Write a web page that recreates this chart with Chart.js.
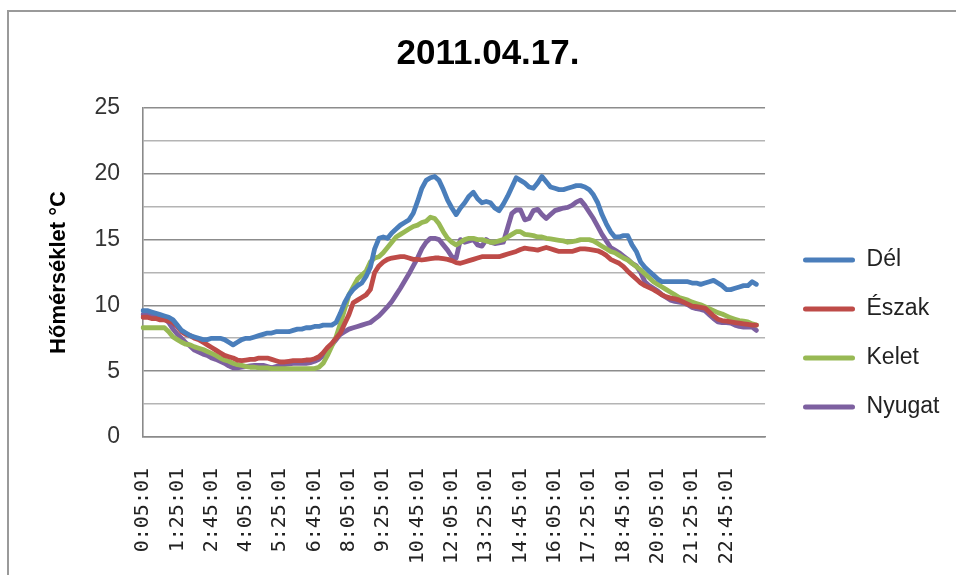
<!DOCTYPE html>
<html>
<head>
<meta charset="utf-8">
<script src="https://cdn.jsdelivr.net/npm/chart.js@4.4.1/dist/chart.umd.min.js"></script>
<style>
  html, body { margin: 0; padding: 0; background: #fff; overflow: hidden; }
  #wrap { position: relative; width: 956px; height: 575px; }
  #frame { position: absolute; left: 7px; top: 10px; width: 980px; height: 620px;
           border: 2px solid #9a9a9a; box-sizing: border-box; pointer-events: none; }
</style>
</head>
<body>
<div id="wrap">
  <canvas id="c" width="956" height="575"></canvas>
  <div id="frame"></div>
</div>
<script>
const chartTitle = '2011.04.17.';
const yAxisTitle = 'Hőmérséklet °C';
const seriesNames = ['Dél', 'Észak', 'Kelet', 'Nyugat'];
const seriesColors = ['#4A7EBB', '#BE4B48', '#98B954', '#7D60A0'];

// categories: readings every 10 minutes from 0:05:01 (144 readings) + 2 empty slots at the end of the axis
const categories = [];
for (let i = 0; i < 144; i++) {
  const m = 5 + 10 * i;
  categories.push(Math.floor(m / 60) + ':' + String(m % 60).padStart(2, '0') + ':01');
}
categories.push('', '');

const shownTickLabels = ['0:05:01','1:25:01','2:45:01','4:05:01','5:25:01','6:45:01','8:05:01','9:25:01',
  '10:45:01','12:05:01','13:25:01','14:45:01','16:05:01','17:25:01','18:45:01','20:05:01','21:25:01','22:45:01'];

const del = [
  9.6, 9.6, 9.5, 9.4, 9.3, 9.2, 9.1, 8.9, 8.5, 8.1,
  7.9, 7.7, 7.6, 7.5, 7.4, 7.4, 7.5, 7.5, 7.5, 7.4,
  7.2, 7.0, 7.2, 7.4, 7.5, 7.5, 7.6, 7.7, 7.8, 7.9,
  7.9, 8.0, 8.0, 8.0, 8.0, 8.1, 8.2, 8.2, 8.3, 8.3,
  8.4, 8.4, 8.5, 8.5, 8.5, 8.7, 9.4, 10.2, 10.8, 11.2,
  11.5, 11.7, 12.2, 12.9, 14.3, 15.1, 15.2, 15.1, 15.5, 15.8,
  16.1, 16.3, 16.5, 17.0, 17.9, 18.9, 19.5, 19.7, 19.8, 19.5,
  18.8, 18.0, 17.4, 16.9, 17.4, 17.8, 18.3, 18.6, 18.1, 17.8,
  17.9, 17.8, 17.4, 17.2, 17.7, 18.3, 19.0, 19.7, 19.5, 19.3,
  19.0, 18.9, 19.3, 19.8, 19.4, 19.0, 18.9, 18.8, 18.8, 18.9,
  19.0, 19.1, 19.1, 19.0, 18.8, 18.4, 17.8, 16.9, 16.2, 15.6,
  15.2, 15.2, 15.3, 15.3, 14.6, 14.1, 13.3, 12.9, 12.6, 12.3,
  12.0, 11.8, 11.8, 11.8, 11.8, 11.8, 11.8, 11.8, 11.7, 11.7,
  11.6, 11.7, 11.8, 11.9, 11.7, 11.5, 11.2, 11.2, 11.3, 11.4,
  11.5, 11.5, 11.8, 11.6
];
const eszak = [
  9.1, 9.1, 9.0, 9.0, 8.9, 8.9, 8.8, 8.7, 8.4, 8.0,
  7.8, 7.7, 7.5, 7.4, 7.2, 7.0, 6.8, 6.6, 6.4, 6.2,
  6.1, 6.0, 5.85, 5.8, 5.85, 5.9, 5.9, 6.0, 6.0, 6.0,
  5.9, 5.8, 5.7, 5.7, 5.75, 5.8, 5.8, 5.8, 5.85, 5.85,
  5.95, 6.1, 6.4, 6.8, 7.1, 7.5, 7.9, 8.6, 9.3, 10.2,
  10.4, 10.6, 10.8, 11.2, 12.5, 13.0, 13.3, 13.5, 13.6, 13.65,
  13.7, 13.7, 13.6, 13.5, 13.5, 13.45, 13.5, 13.55, 13.6, 13.6,
  13.55, 13.5, 13.4, 13.25, 13.2, 13.3, 13.4, 13.5, 13.6, 13.7,
  13.7, 13.7, 13.7, 13.7, 13.8, 13.9, 14.0, 14.1, 14.25, 14.35,
  14.3, 14.25, 14.2, 14.3, 14.4, 14.3, 14.2, 14.1, 14.1, 14.1,
  14.1, 14.2, 14.3, 14.3, 14.25, 14.2, 14.15, 14.0, 13.8, 13.5,
  13.35, 13.2, 12.95, 12.6, 12.3, 12.0, 11.7, 11.5, 11.35, 11.2,
  11.0, 10.8, 10.65, 10.55, 10.5, 10.4, 10.25, 10.1, 9.95, 9.9,
  9.85, 9.8, 9.5, 9.2, 8.95, 8.85, 8.8, 8.75, 8.7, 8.65,
  8.6, 8.55, 8.5, 8.5
];
const kelet = [
  8.3, 8.3, 8.3, 8.3, 8.3, 8.3, 8.0, 7.6, 7.4, 7.2,
  7.05, 7.0, 6.85, 6.75, 6.65, 6.5, 6.35, 6.2, 6.0, 5.85,
  5.75, 5.6, 5.5, 5.45, 5.35, 5.3, 5.3, 5.25, 5.25, 5.25,
  5.2, 5.2, 5.2, 5.2, 5.2, 5.2, 5.2, 5.2, 5.2, 5.2,
  5.2, 5.3, 5.6, 6.2, 6.9, 7.6, 8.6, 9.7, 10.8, 11.4,
  12.0, 12.3, 12.6, 13.3, 13.6, 13.7, 14.0, 14.4, 14.8, 15.2,
  15.4, 15.6, 15.8, 16.0, 16.1, 16.3, 16.4, 16.7, 16.6, 16.2,
  15.6, 15.1, 14.8, 14.6, 14.8, 15.0, 15.1, 15.1, 15.0, 15.0,
  14.9, 14.8, 14.8, 14.9, 15.0, 15.2, 15.4, 15.6, 15.6, 15.4,
  15.35, 15.3, 15.2, 15.2, 15.1, 15.05, 15.0, 14.95, 14.9, 14.8,
  14.85, 14.9, 15.0, 15.0, 15.0, 14.9, 14.7, 14.5, 14.3, 14.1,
  14.0, 13.8, 13.6, 13.45, 13.2, 12.95, 12.7, 12.4, 12.1, 11.8,
  11.6, 11.4, 11.2, 11.0, 10.8, 10.6, 10.5, 10.4, 10.25, 10.15,
  10.05, 9.9, 9.75, 9.6, 9.45, 9.35, 9.2, 9.05, 8.95, 8.85,
  8.8, 8.75, 8.6, 8.5
];
const nyugat = [
  9.3, 9.3, 9.2, 9.2, 9.1, 9.0, 8.7, 8.2, 7.8, 7.5,
  7.15, 6.9, 6.6, 6.45, 6.3, 6.2, 6.0, 5.9, 5.75, 5.6,
  5.4, 5.25, 5.25, 5.3, 5.35, 5.4, 5.45, 5.45, 5.45, 5.35,
  5.25, 5.35, 5.45, 5.5, 5.55, 5.6, 5.6, 5.6, 5.6, 5.65,
  5.75, 5.9, 6.2, 6.6, 7.0, 7.4, 7.8, 8.0, 8.2, 8.3,
  8.4, 8.5, 8.6, 8.7, 8.95, 9.2, 9.55, 9.9, 10.3, 10.8,
  11.3, 11.85, 12.4, 13.0, 13.6, 14.3, 14.8, 15.1, 15.1, 15.0,
  14.6, 14.2, 13.7, 13.6, 15.0, 14.8, 14.9, 15.0, 14.6, 14.5,
  15.0, 14.8, 14.7, 14.75, 14.8, 15.9, 17.0, 17.25, 17.25, 16.5,
  16.6, 17.2, 17.3, 16.9, 16.6, 16.9, 17.2, 17.3, 17.4, 17.45,
  17.6, 17.85, 18.0, 17.6, 17.1, 16.6, 16.0, 15.4, 14.9, 14.4,
  14.2, 14.0, 13.75, 13.5, 13.2, 13.0, 12.5, 11.8, 11.5, 11.3,
  11.1, 10.8, 10.6, 10.4, 10.3, 10.25, 10.2, 10.05, 9.85, 9.75,
  9.7, 9.6, 9.3, 9.0, 8.75, 8.7, 8.7, 8.65, 8.5, 8.4,
  8.35, 8.35, 8.35, 8.1
];
const seriesValues = [del, eszak, kelet, nyugat];

const yMin = 0, yMax = 25, yStep = 2.5, yLabelEvery = 5;
const FONT = '"Liberation Sans", Arial, sans-serif';

const datasets = seriesNames.map((name, k) => ({
  label: name,
  data: seriesValues[k],
  borderColor: seriesColors[k],
  backgroundColor: seriesColors[k],
  borderWidth: 4.8,
  pointRadius: 0,
  pointHoverRadius: 0,
  tension: 0,
  fill: false,
  borderJoinStyle: 'round',
  borderCapStyle: 'round',
  yAxisID: 'y'
}));

new Chart(document.getElementById('c'), {
  type: 'line',
  data: { labels: categories, datasets },
  options: {
    responsive: false,
    animation: false,
    devicePixelRatio: 1,
    layout: { padding: { top: 0, left: 26.6, right: 6.6, bottom: 0 } },
    plugins: {
      tooltip: { enabled: false },
      title: {
        display: true,
        text: chartTitle,
        color: '#000',
        font: { family: FONT, size: 35, weight: 'bold' },
        padding: { top: 33.5, bottom: 32.5 }
      },
      legend: {
        position: 'right',
        align: 'center',
        maxWidth: 240,
        title: { display: true, text: ' ', color: 'rgba(0,0,0,0)', font: { size: 12 }, padding: { top: 0, bottom: 77.6 } },
        labels: {
          boxWidth: 52,
          boxHeight: 5,
          padding: 26,
          color: '#222',
          useBorderRadius: true,
          borderRadius: 2.5,
          font: { family: FONT, size: 23 },
          generateLabels(chart) {
            const items = Chart.defaults.plugins.legend.labels.generateLabels(chart);
            items.forEach(it => { it.lineWidth = 0; it.fillStyle = it.strokeStyle; });
            return items;
          }
        }
      }
    },
    scales: {
      x: {
        type: 'category',
        offset: false,
        grid: { display: false },
        border: { display: true, color: '#8a8a8a', width: 1.5 },
        ticks: {
          autoSkip: false,
          maxRotation: 90,
          minRotation: 90,
          padding: 23,
          color: '#222',
          font: { family: '"DejaVu Sans Mono", monospace', size: 20 },
          callback: function (v, idx) {
            const lab = categories[idx];
            return shownTickLabels.includes(lab) ? lab : '';
          }
        },
        afterFit(s) { s.height = 138; }
      },
      y: {
        position: 'left',
        min: yMin,
        max: yMax,
        grid: {
          color: c => (c.tick && c.tick.value % yLabelEvery === 0) ? '#8c8c8c' : '#b4b4b4',
          lineWidth: 1.6,
          drawTicks: false
        },
        border: { display: true, color: '#8a8a8a', width: 1.6 },
        ticks: {
          stepSize: yStep,
          padding: 23,
          color: '#333',
          font: { family: FONT, size: 23 },
          callback: v => (v % yLabelEvery === 0 ? String(v) : '')
        },
        title: {
          display: true,
          text: yAxisTitle,
          color: '#000',
          font: { family: FONT, size: 22, weight: 'bold' },
          padding: { top: 19.2, bottom: 0 }
        },
        afterFit(s) { s.width = 116.4; }
      },
      yR: {
        position: 'right',
        display: true,
        grid: { display: false, drawTicks: false },
        border: { display: false },
        ticks: { display: false },
        afterFit(s) { s.width = 12; }
      }
    }
  }
});
</script>
</body>
</html>
